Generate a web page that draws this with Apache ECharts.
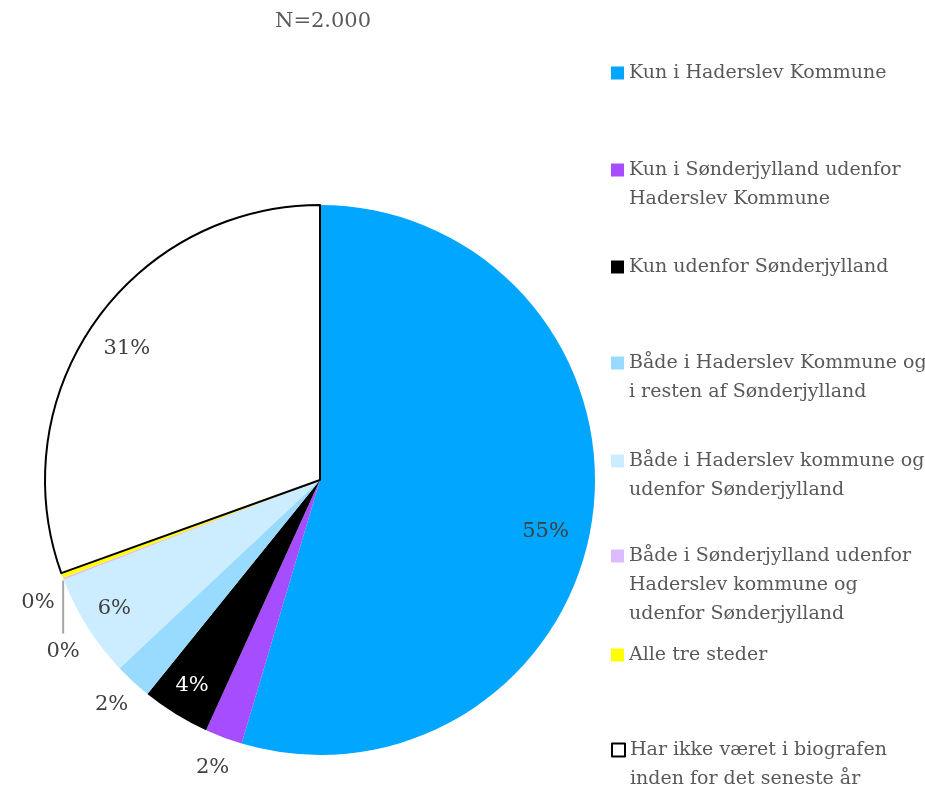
<!DOCTYPE html>
<html>
<head>
<meta charset="utf-8">
<script src="https://cdn.jsdelivr.net/npm/echarts@6/dist/echarts.min.js"></script>
<style>
  html, body { margin: 0; padding: 0; background: #fff; }
  #chart { width: 925px; height: 791px; }
</style>
</head>
<body>
<div id="chart"></div>
<script>
const categories = [
  "Kun i Haderslev Kommune",
  "Kun i Sønderjylland udenfor Haderslev Kommune",
  "Kun udenfor Sønderjylland",
  "Både i Haderslev Kommune og i resten af Sønderjylland",
  "Både i Haderslev kommune og udenfor Sønderjylland",
  "Både i Sønderjylland udenfor Haderslev kommune og udenfor Sønderjylland",
  "Alle tre steder",
  "Har ikke været i biografen inden for det seneste år"
];
// shares in percent
const shares = [54.6, 2.2, 4.0, 2.2, 6.1, 0.1, 0.3, 30.5];
const legendText = [
  "Kun i Haderslev Kommune",
  "Kun i Sønderjylland udenfor\nHaderslev Kommune",
  "Kun udenfor Sønderjylland",
  "Både i Haderslev Kommune og\ni resten af Sønderjylland",
  "Både i Haderslev kommune og\nudenfor Sønderjylland",
  "Både i Sønderjylland udenfor\nHaderslev kommune og\nudenfor Sønderjylland",
  "Alle tre steder",
  "Har ikke været i biografen\ninden for det seneste år"
];
const colors = ["#00A6FF", "#A64DFF", "#000000", "#99DBFF", "#CCEDFF", "#DDBBFF", "#FFFF00", "#FFFFFF"];

// which labels sit inside the pie, which outside, which one gets a leader line
const insideIdx = [0, 2, 4, 7];
const outsideIdx = [1, 3, 5];
const leaderIdx = [6];

const FONT = "DejaVu Serif";
const TXT = "#595959";
const LH = 29;
const legendCenters = [73, 170, 267, 363, 461, 556, 655, 750];

const pct = p => Math.round(p.value) + "%";

function sliceStyle(i) {
  if (i === 7) return { color: colors[i], borderColor: "#000", borderWidth: 2 };
  return { color: colors[i], borderWidth: 0 };
}

const mainData = categories.map((name, i) => ({
  name: name,
  value: shares[i],
  itemStyle: sliceStyle(i),
  label: { show: leaderIdx.includes(i) },
  labelLine: { show: leaderIdx.includes(i) }
}));

function ringData(idxList, textColorFn) {
  return categories.map((name, i) => ({
    name: name,
    value: shares[i],
    label: { show: idxList.includes(i), color: textColorFn(i) }
  }));
}

const ringBase = {
  type: "pie",
  center: [320, 480],
  startAngle: 90,
  clockwise: true,
  silent: true,
  tooltip: { show: false },
  emphasis: { disabled: true },
  itemStyle: { color: "rgba(0,0,0,0)", borderWidth: 0 },
  labelLine: { show: false },
  label: { position: "inside", fontFamily: FONT, fontSize: 21, formatter: pct }
};

// legend text is centred on the icon, so blank lines in front keep the
// first real line level with the icon
const legends = categories.map((name, i) => {
  const n = legendText[i].split("\n").length;
  return {
    left: 611,
    top: legendCenters[i] - (n - 1) * LH - LH / 2,
    padding: 0,
    orient: "vertical",
    itemWidth: 13,
    itemHeight: 13,
    icon: "rect",
    selectedMode: false,
    data: [{
      name: name,
      itemStyle: i === 7
        ? { color: "#fff", borderColor: "#000", borderWidth: 2 }
        : { color: colors[i], borderWidth: 0 }
    }],
    formatter: () => "\n".repeat(n - 1) + legendText[i],
    textStyle: {
      fontFamily: FONT,
      fontSize: 19,
      color: TXT,
      lineHeight: LH
    }
  };
});

const chart = echarts.init(document.getElementById("chart"), null, { renderer: "canvas" });
chart.setOption({
  backgroundColor: "#fff",
  animation: false,
  title: {
    text: "N=2.000",
    left: 270,
    top: 6,
    textStyle: { fontFamily: FONT, fontSize: 21, fontWeight: "normal", color: TXT }
  },
  legend: legends,
  series: [
    {
      name: "main",
      type: "pie",
      center: [320, 480],
      radius: 275,
      startAngle: 90,
      clockwise: true,
      avoidLabelOverlap: false,
      data: mainData,
      label: { position: "outside", fontFamily: FONT, fontSize: 21, color: "#404040", formatter: pct },
      labelLine: { length: 2, length2: 0, lineStyle: { color: "#A6A6A6", width: 2 } },
      // drop the label straight below the slice edge, with a vertical leader
      labelLayout: params => {
        const pts = params.labelLinePoints;
        if (!leaderIdx.includes(params.dataIndex) || !pts || !pts[0]) return {};
        const p0 = pts[0];
        const x = p0[0] + 1;
        const top = [x, p0[1] + 5];
        const bottom = [x, p0[1] + 58];
        return {
          x: x,
          y: bottom[1] + 18,
          align: "center",
          verticalAlign: "middle",
          labelLinePoints: [top, bottom, bottom]
        };
      },
      emphasis: { scale: false }
    },
    Object.assign({}, ringBase, {
      name: "insideLabels",
      radius: [186, 280],
      data: ringData(insideIdx, i => (i === 2 ? "#FFFFFF" : "#404040")),
      labelLayout: params => {
        if (params.dataIndex === 0) return { dx: -8, dy: 18 };
        if (params.dataIndex === 4) return { dx: -6, dy: 3 };
        if (params.dataIndex === 2) return { dx: -4, dy: 5 };
        return { dy: 4 };
      }
    }),
    Object.assign({}, ringBase, {
      name: "outsideLabels",
      radius: [287, 320],
      data: ringData(outsideIdx, () => "#404040"),
      labelLayout: params => (params.dataIndex === 5 ? { dx: 4, dy: 12 } : {})
    })
  ]
});
</script>
</body>
</html>
